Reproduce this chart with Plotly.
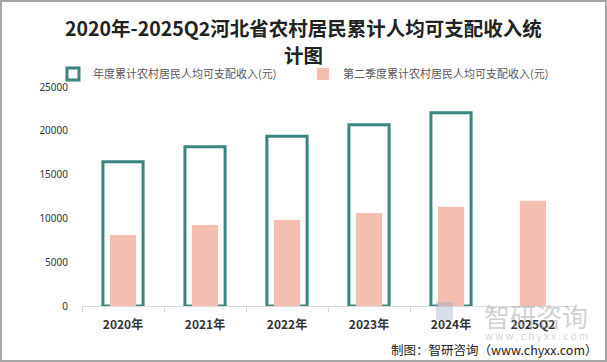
import plotly.graph_objects as go

categories = ["2020年", "2021年", "2022年", "2023年", "2024年", "2025Q2"]
annual = [16467, 18179, 19364, 20688, 22066, None]
q2 = [8105, 9247, 9817, 10616, 11335, 12020]
name_annual = "年度累计农村居民人均可支配收入(元)"
name_q2 = "第二季度累计农村居民人均可支配收入(元)"
title_lines = ["2020年-2025Q2河北省农村居民累计人均可支配收入统", "计图"]

fig = go.Figure()
fig.add_trace(go.Bar(
    x=categories, y=annual, name=name_annual, width=0.49,
    marker=dict(color="white", line=dict(color="#3A8580", width=3)),
))
fig.add_trace(go.Bar(
    x=categories, y=q2, name=name_q2, width=0.32,
    marker=dict(color="#F4BFB0", line=dict(width=0)),
))

PW, PH = 492, 219


def px(xp):
    return (xp - 82) / PW


def py(yp):
    return (306 - yp) / PH


fig.update_layout(
    width=607, height=362,
    barmode="overlay",
    plot_bgcolor="white", paper_bgcolor="white",
    margin=dict(l=82, r=33, t=87, b=56, autoexpand=False),
    font=dict(family="Noto Sans CJK SC", color="#595959"),
    legend=dict(
        orientation="h", x=px(53), xanchor="left", y=py(74), yanchor="middle",
        font=dict(size=11, color="#595959"), bgcolor="rgba(0,0,0,0)",
        traceorder="normal", entrywidth=205, entrywidthmode="pixels",
        itemwidth=30,
    ),
    showlegend=True,
)
for i, line in enumerate(title_lines):
    fig.add_annotation(text=line, xref="paper", yref="paper", x=px(303), y=py(27 + 27 * i),
                       xanchor="center", yanchor="middle", showarrow=False,
                       font=dict(size=19.5, color="#222222", family="Noto Sans CJK SC", weight="bold"))

fig.update_yaxes(
    range=[0, 25000], dtick=5000, tickformat="d", showgrid=False, zeroline=False,
    showline=False, tickfont=dict(size=10, color="#333333", family="Noto Sans"),
    ticks="", ticklabelstandoff=13,
)
fig.update_xaxes(
    showline=True, linecolor="#D9D9D9", linewidth=1,
    ticks="outside", tickcolor="#D9D9D9", ticklen=5, tickson="boundaries",
    tickfont=dict(size=12, color="#333333", family="Noto Sans CJK SC", weight="bold"),
    ticklabelstandoff=8,
)

# watermark
fig.add_shape(type="rect", xref="paper", yref="paper",
              x0=px(436), x1=px(453), y0=py(320), y1=py(302),
              line=dict(width=0), fillcolor="rgba(140,160,195,0.35)")
fig.add_annotation(text="智研咨询", xref="paper", yref="paper", x=px(590), y=py(315),
                   xanchor="right", yanchor="middle", showarrow=False,
                   font=dict(size=26, color="rgba(150,150,150,0.45)"))
fig.add_annotation(text="w w w . c h y x x . c o m", xref="paper", yref="paper", x=px(590),
                   y=py(335),
                   xanchor="right", yanchor="middle", showarrow=False,
                   font=dict(size=10, color="rgba(150,150,150,0.45)"))
fig.add_annotation(text="制图：智研咨询（www.chyxx.com）", xref="paper", yref="paper", x=px(600),
                   y=py(349),
                   xanchor="right", yanchor="middle", showarrow=False,
                   font=dict(size=12.5, color="#222222"))
# border
fig.add_shape(type="rect", xref="paper", yref="paper",
              x0=px(1), x1=px(606), y0=py(361), y1=py(1),
              line=dict(color="#A6A6A6", width=2), fillcolor="rgba(0,0,0,0)")

fig.write_html("out.html", config={"displayModeBar": False},
               post_script="document.body.style.margin='0';document.body.style.overflow='hidden';")
